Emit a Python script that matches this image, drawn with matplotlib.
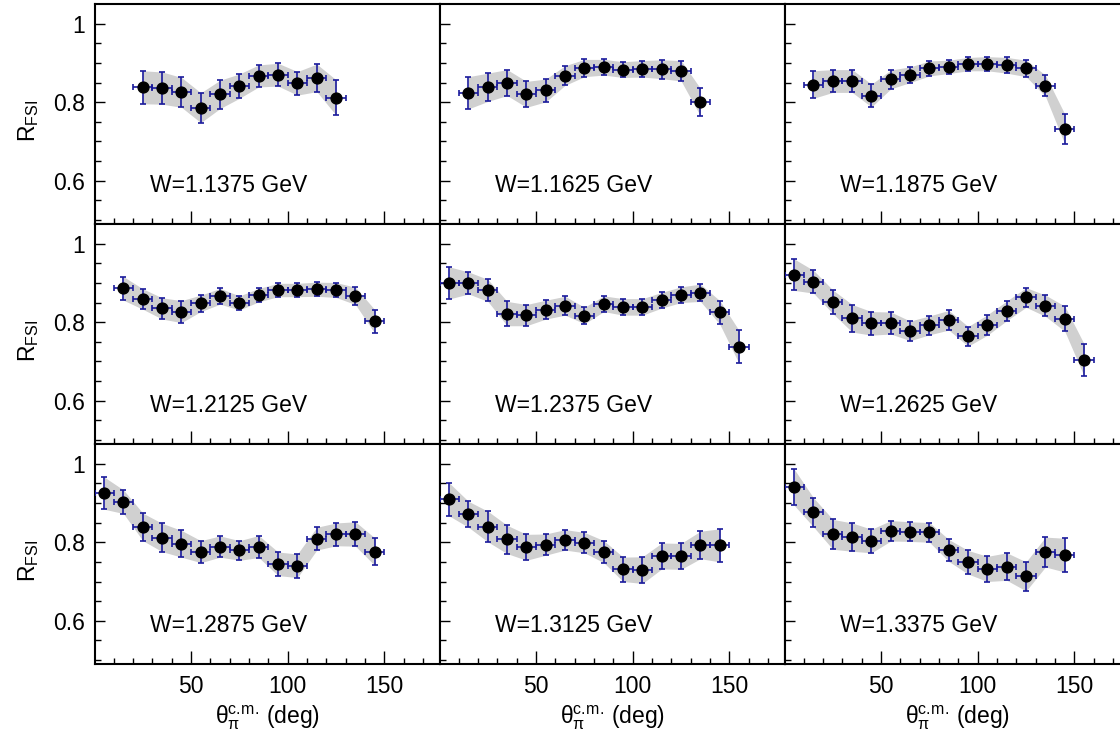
import matplotlib
matplotlib.use('Agg')
import matplotlib.pyplot as plt
import numpy as np

plt.rcParams['font.family'] = ['Liberation Sans', 'DejaVu Sans']
plt.rcParams['mathtext.fontset'] = 'custom'
plt.rcParams['mathtext.rm'] = 'Liberation Sans'
plt.rcParams['mathtext.it'] = 'Liberation Sans:italic'
plt.rcParams['mathtext.default'] = 'regular'

# ================= 数据 =================
W_LABELS = ['W=1.1375 GeV', 'W=1.1625 GeV', 'W=1.1875 GeV',
            'W=1.2125 GeV', 'W=1.2375 GeV', 'W=1.2625 GeV',
            'W=1.2875 GeV', 'W=1.3125 GeV', 'W=1.3375 GeV']

THETA_HALF_BIN = 5.0   # 水平误差 = 半个角度 bin

theta_1 = [25, 35, 45, 55, 65, 75, 85, 95, 105, 115, 125]
r_1 = [0.838, 0.836, 0.825, 0.786, 0.820, 0.841, 0.867, 0.870, 0.848, 0.862, 0.812]
e_1 = [0.042, 0.041, 0.038, 0.038, 0.036, 0.031, 0.028, 0.029, 0.030, 0.035, 0.045]

theta_2 = [15, 25, 35, 45, 55, 65, 75, 85, 95, 105, 115, 125, 135]
r_2 = [0.824, 0.838, 0.850, 0.820, 0.830, 0.868, 0.887, 0.889, 0.883, 0.885,
       0.884, 0.880, 0.800]
e_2 = [0.041, 0.036, 0.033, 0.033, 0.029, 0.025, 0.022, 0.020, 0.020, 0.021,
       0.024, 0.026, 0.035]

theta_3 = [15, 25, 35, 45, 55, 65, 75, 85, 95, 105, 115, 125, 135, 145]
r_3 = [0.845, 0.854, 0.854, 0.817, 0.858, 0.870, 0.886, 0.890, 0.897, 0.898,
       0.894, 0.886, 0.842, 0.732]
e_3 = [0.035, 0.029, 0.029, 0.029, 0.024, 0.020, 0.019, 0.017, 0.017, 0.018,
       0.020, 0.021, 0.027, 0.038]

theta_4 = [15, 25, 35, 45, 55, 65, 75, 85, 95, 105, 115, 125, 135, 145]
r_4 = [0.886, 0.859, 0.835, 0.827, 0.848, 0.866, 0.849, 0.869, 0.882, 0.882,
       0.884, 0.882, 0.867, 0.802]
e_4 = [0.030, 0.026, 0.027, 0.028, 0.021, 0.020, 0.018, 0.017, 0.017, 0.017,
       0.018, 0.019, 0.022, 0.030]

theta_5 = [5, 15, 25, 35, 45, 55, 65, 75, 85, 95, 105, 115, 125, 135, 145, 155]
r_5 = [0.900, 0.900, 0.881, 0.822, 0.818, 0.832, 0.842, 0.817, 0.847, 0.839,
       0.839, 0.856, 0.870, 0.875, 0.825, 0.737]
e_5 = [0.041, 0.028, 0.028, 0.031, 0.027, 0.024, 0.024, 0.021, 0.020, 0.021,
       0.021, 0.020, 0.020, 0.022, 0.030, 0.042]

theta_6 = [5, 15, 25, 35, 45, 55, 65, 75, 85, 95, 105, 115, 125, 135, 145, 155]
r_6 = [0.921, 0.903, 0.852, 0.810, 0.797, 0.798, 0.778, 0.792, 0.805, 0.764,
       0.793, 0.829, 0.863, 0.842, 0.809, 0.704]
e_6 = [0.040, 0.029, 0.030, 0.035, 0.030, 0.028, 0.025, 0.024, 0.025, 0.025,
       0.026, 0.025, 0.025, 0.027, 0.032, 0.041]

theta_7 = [5, 15, 25, 35, 45, 55, 65, 75, 85, 95, 105, 115, 125, 135, 145]
r_7 = [0.925, 0.903, 0.839, 0.812, 0.796, 0.776, 0.789, 0.779, 0.789, 0.745,
       0.740, 0.809, 0.820, 0.821, 0.776]
e_7 = [0.041, 0.030, 0.035, 0.036, 0.034, 0.028, 0.027, 0.025, 0.028, 0.030,
       0.030, 0.029, 0.029, 0.031, 0.035]

theta_8 = [5, 15, 25, 35, 45, 55, 65, 75, 85, 95, 105, 115, 125, 135, 145]
r_8 = [0.909, 0.871, 0.840, 0.807, 0.787, 0.794, 0.806, 0.799, 0.776, 0.731,
       0.729, 0.765, 0.764, 0.793, 0.792]
e_8 = [0.042, 0.033, 0.039, 0.036, 0.033, 0.027, 0.026, 0.026, 0.028, 0.031,
       0.034, 0.033, 0.033, 0.035, 0.042]

theta_9 = [5, 15, 25, 35, 45, 55, 65, 75, 85, 95, 105, 115, 125, 135, 145]
r_9 = [0.940, 0.876, 0.820, 0.813, 0.803, 0.829, 0.827, 0.825, 0.779, 0.749,
       0.732, 0.738, 0.713, 0.775, 0.767]
e_9 = [0.046, 0.037, 0.038, 0.036, 0.030, 0.026, 0.025, 0.025, 0.028, 0.030,
       0.032, 0.035, 0.037, 0.038, 0.043]

THETAS = [theta_1, theta_2, theta_3, theta_4, theta_5, theta_6, theta_7, theta_8, theta_9]
RS = [r_1, r_2, r_3, r_4, r_5, r_6, r_7, r_8, r_9]
ERRS = [e_1, e_2, e_3, e_4, e_5, e_6, e_7, e_8, e_9]

X_TICKS = [50, 100, 150]
Y_TICKS = [0.6, 0.8, 1.0]
Y_TICK_LABELS = ['0.6', '0.8', '1']
# ========================================

FIG_W, FIG_H = 1120, 731
COL_LEFT = [94.5, 439.5, 784.5]
ROW_TOP = [4, 224, 444]
PANEL_W, PANEL_H = 345, 220
FS = 16.5

band_color = '#d0d0d0'
err_color = '#1a1a9c'

fig = plt.figure(figsize=(FIG_W / 100, FIG_H / 100), dpi=100)

for k in range(9):
    row, col = divmod(k, 3)
    rect = [COL_LEFT[col] / FIG_W, (FIG_H - ROW_TOP[row] - PANEL_H) / FIG_H,
            PANEL_W / FIG_W, PANEL_H / FIG_H]
    ax = fig.add_axes(rect)

    th = np.array(THETAS[k], dtype=float)
    r = np.array(RS[k])
    e = np.array(ERRS[k])

    # 灰色误差带
    ax.fill_between(th, r - e, r + e, color=band_color, linewidth=0, zorder=1)
    ax.errorbar(th, r, yerr=e, xerr=THETA_HALF_BIN, fmt='o', color='black',
                markersize=7.8, ecolor=err_color, elinewidth=1.2,
                capsize=2.0, capthick=1.2, zorder=3)

    ax.set_xlim(0, 178.5)
    ax.set_ylim(0.49, 1.05)
    ax.set_xticks(X_TICKS)
    ax.set_xticks(np.arange(10, 180, 10), minor=True)
    ax.set_yticks(Y_TICKS)
    ax.set_yticks(np.arange(0.5, 1.05, 0.05), minor=True)

    ax.tick_params(which='both', direction='in', top=False, right=False,
                   width=1.0, labelsize=FS)
    ax.tick_params(axis='x', which='major', length=9.5, pad=8)
    ax.tick_params(axis='x', which='minor', length=4.2)
    ax.tick_params(axis='y', which='major', length=7.2, pad=7)
    ax.tick_params(axis='y', which='minor', length=4.2)
    for sp in ax.spines.values():
        sp.set_linewidth(1.5)

    if col == 0:
        ax.set_yticklabels(Y_TICK_LABELS)
        ax.set_ylabel(r'R$_{\mathrm{FSI}}$', fontsize=FS)
        ax.yaxis.set_label_coords(-0.155, 0.47)
    else:
        ax.set_yticklabels([])
    if row == 2:
        ax.set_xlabel(r'θ$_{π}^{\mathrm{c.\!m.\!}}$ (deg)', fontsize=FS, labelpad=4)
    else:
        ax.set_xticklabels([])

    ax.text(0.162, 0.147, W_LABELS[k], transform=ax.transAxes,
            fontsize=FS, ha='left', va='baseline')

plt.savefig('out.png', dpi=100, facecolor='white')
plt.close()
